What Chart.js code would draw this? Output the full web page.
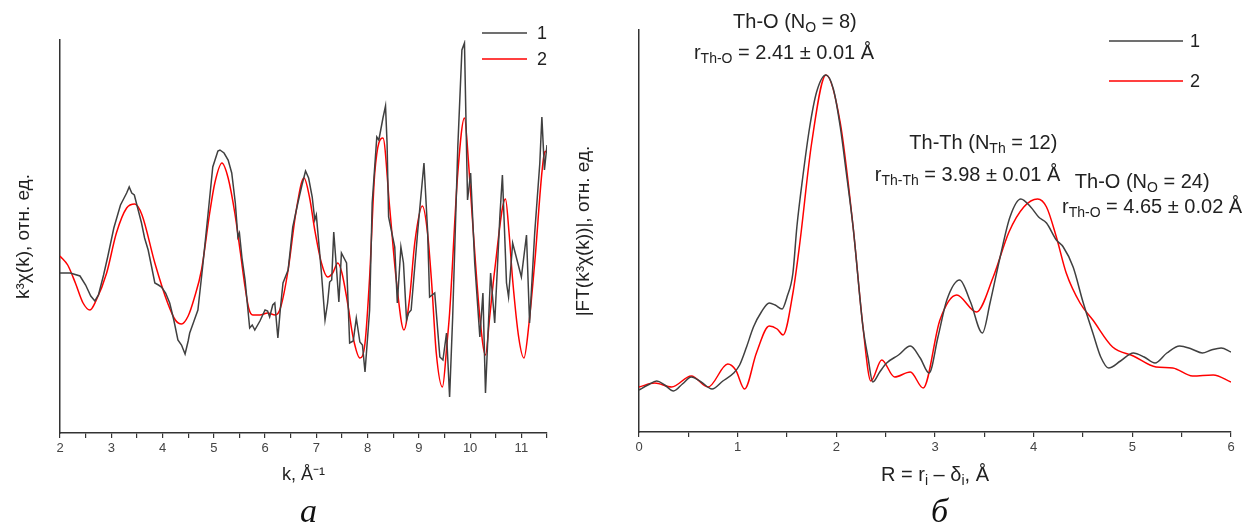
<!DOCTYPE html>
<html>
<head>
<meta charset="utf-8">
<script src="https://cdn.jsdelivr.net/npm/chart.js@4.4.1/dist/chart.umd.min.js"></script>
<style>
html, body { margin: 0; padding: 0; background: #fff; width: 1246px; height: 526px; overflow: hidden; position: relative; }
canvas { position: absolute; top: 0; }
#chartA { left: 0; }
#chartB { left: 560px; }
.panel { position: absolute; font: italic 34px "Liberation Serif", "Times New Roman", serif; line-height: 34px; color: #111; }
</style>
</head>
<body>
<canvas id="chartA" width="560" height="526"></canvas>
<canvas id="chartB" width="686" height="526"></canvas>
<div class="panel" style="left:300px;top:494px">а</div>
<div class="panel" style="left:931px;top:494px">б</div>
<script>
// --- (а) k^3 chi(k): experiment (1) and fit (2), arbitrary units
const kExp = [2.00, 2.20, 2.39, 2.50, 2.60, 2.68, 2.75, 2.85, 2.93, 3.05, 3.18, 3.25, 3.30, 3.35, 3.40, 3.45, 3.52, 3.59, 3.65, 3.72,
  3.78, 3.85, 3.92, 3.98, 4.06, 4.14, 4.22, 4.30, 4.37, 4.44, 4.50, 4.53, 4.60, 4.69, 4.78, 4.89, 4.98, 5.08, 5.12, 5.20,
  5.28, 5.35, 5.42, 5.47, 5.50, 5.55, 5.61, 5.70, 5.75, 5.80, 5.90, 6.00, 6.05, 6.09, 6.15, 6.19, 6.25, 6.30, 6.35, 6.45,
  6.54, 6.64, 6.72, 6.79, 6.85, 6.92, 6.97, 7.00, 7.10, 7.17, 7.22, 7.26, 7.30, 7.34, 7.40, 7.44, 7.49, 7.59, 7.65, 7.72,
  7.78, 7.85, 7.90, 7.95, 8.04, 8.09, 8.18, 8.22, 8.30, 8.35, 8.38, 8.41, 8.53, 8.58, 8.65, 8.70, 8.76, 8.80, 8.85, 8.98,
  9.10, 9.17, 9.21, 9.31, 9.41, 9.47, 9.54, 9.60, 9.66, 9.76, 9.84, 9.89, 9.95, 10.01, 10.09, 10.19, 10.25, 10.30, 10.40, 10.48,
  10.58, 10.63, 10.71, 10.75, 10.83, 10.93, 11.00, 11.10, 11.16, 11.26, 11.36, 11.40, 11.45, 11.50];
const chiExp = [160, 160, 157, 148, 137, 132, 138, 158, 176, 205, 228, 235, 240, 246, 240, 238, 224, 210, 195, 183,
  168, 150, 148, 146, 140, 130, 113, 93, 88, 79, 92, 100, 110, 123, 165, 220, 266, 282, 283, 280,
  273, 260, 230, 196, 200, 175, 153, 105, 108, 103, 112, 123, 122, 116, 128, 130, 95, 125, 150, 163,
  206, 230, 248, 262, 255, 236, 213, 218, 160, 113, 130, 151, 153, 201, 160, 131, 180, 170, 90, 92,
  115, 91, 88, 61, 123, 230, 296, 293, 315, 327, 290, 216, 186, 130, 186, 170, 113, 120, 123, 203,
  270, 203, 136, 140, 76, 73, 100, 36, 116, 286, 383, 390, 233, 260, 170, 96, 140, 40, 160, 110,
  216, 258, 150, 136, 190, 170, 156, 198, 110, 200, 270, 316, 263, 288];

const kFit = [2.00, 2.15, 2.30, 2.45, 2.585, 2.70, 2.91, 3.10, 3.30, 3.46, 3.60, 3.85, 4.10, 4.25, 4.37, 4.50, 4.62, 4.76, 4.92, 5.02,
  5.16, 5.28, 5.41, 5.52, 5.61, 5.68, 5.76, 5.90, 6.05, 6.20, 6.30, 6.45, 6.60, 6.76, 6.87, 6.97, 7.10, 7.22, 7.32, 7.42,
  7.50, 7.61, 7.72, 7.85, 7.95, 8.04, 8.14, 8.30, 8.43, 8.56, 8.71, 8.82, 8.92, 9.07, 9.17, 9.25, 9.34, 9.46, 9.55, 9.60,
  9.76, 9.89, 9.97, 10.05, 10.19, 10.30, 10.38, 10.48, 10.69, 10.76, 10.83, 10.95, 11.05, 11.15, 11.26, 11.45, 11.48];
const chiFit = [177, 168, 150, 130, 123, 132, 160, 200, 225, 229, 218, 170, 130, 113, 109, 117, 135, 163, 220, 250,
  270, 255, 220, 180, 146, 125, 118, 118, 120, 118, 125, 163, 220, 255, 235, 203, 170, 156, 160, 170,
  160, 130, 95, 75, 90, 156, 260, 295, 226, 153, 103, 135, 190, 227, 200, 150, 80, 46, 90, 120,
  260, 315, 270, 210, 116, 78, 115, 163, 234, 200, 153, 95, 75, 110, 170, 280, 282];

// --- (б) |FT(k^3 chi(k))|: experiment (1) and fit (2), arbitrary units
const rExp = [0.00, 0.09, 0.18, 0.26, 0.35, 0.44, 0.53, 0.63, 0.74, 0.85, 0.96, 1.02, 1.09, 1.16, 1.24, 1.32, 1.38, 1.45, 1.50, 1.56,
  1.60, 1.66, 1.73, 1.80, 1.895, 1.97, 2.04, 2.10, 2.17, 2.27, 2.32, 2.37, 2.44, 2.51, 2.63, 2.75, 2.85, 2.94, 3.03, 3.12,
  3.25, 3.36, 3.48, 3.56, 3.66, 3.76, 3.87, 3.97, 4.05, 4.13, 4.23, 4.30, 4.40, 4.50, 4.60, 4.68, 4.76, 4.88, 5.01, 5.12,
  5.23, 5.35, 5.48, 5.60, 5.71, 5.80, 5.90, 6.00];
const ftExp = [42, 47, 51, 47, 41, 48, 55, 50, 43, 51, 59, 67, 85, 105, 120, 129, 127, 123, 135, 159,
  205, 255, 305, 340, 357, 343, 305, 260, 205, 105, 75, 50, 60, 69, 77, 86, 74, 59, 95, 132,
  152, 130, 99, 130, 175, 215, 233, 225, 215, 209, 192, 185, 165, 130, 99, 75, 64, 71, 79, 75,
  69, 79, 86, 83, 79, 82, 84, 80];

const rFit = [0.00, 0.16, 0.33, 0.53, 0.70, 0.90, 0.98, 1.07, 1.19, 1.32, 1.40, 1.46, 1.56, 1.63, 1.75, 1.895, 2.04, 2.17, 2.27, 2.35,
  2.46, 2.59, 2.75, 2.88, 3.05, 3.22, 3.42, 3.59, 3.75, 3.90, 4.04, 4.13, 4.23, 4.33, 4.47, 4.60, 4.80, 5.01, 5.24, 5.41,
  5.61, 5.82, 6.00];
const ftFit = [45, 49, 45, 56, 45, 68, 62, 43, 79, 106, 103, 97, 139, 189, 289, 357, 309, 205, 105, 51,
  72, 55, 60, 44, 112, 137, 120, 155, 200, 225, 233, 225, 195, 159, 129, 112, 85, 76, 65, 64,
  56, 57, 50];

const seriesLabels = ['1', '2'];
const seriesColors = ['#404040', '#ff0000'];

// annotation texts for (б); [text, isSubscript]
const peakNotes = [
  { r: 1.58, v: 410, parts: [['Th-O (N'], ['O', 1], [' = 8)']] },
  { r: 1.47, v: 379, parts: [['r'], ['Th-O', 1], [' = 2.41 ± 0.01 Å']] },
  { r: 3.49, v: 289, parts: [['Th-Th (N'], ['Th', 1], [' = 12)']] },
  { r: 3.33, v: 257, parts: [['r'], ['Th-Th', 1], [' = 3.98 ± 0.01 Å']] },
  { r: 5.10, v: 250, parts: [['Th-O (N'], ['O', 1], [' = 24)']] },
  { r: 5.20, v: 225, parts: [['r'], ['Th-O', 1], [' = 4.65 ± 0.02 Å']] }
];

const FONT = '"Liberation Sans", Arial, sans-serif';
Chart.defaults.font.family = FONT;

function pts(xs, ys) {
  return xs.map((x, i) => ({ x: x, y: ys[i] }));
}

function drawParts(ctx, parts, cx, cy, size) {
  const main = size + 'px ' + FONT;
  const sub = Math.round(size * 0.72) + 'px ' + FONT;
  let w = 0;
  parts.forEach(p => { ctx.font = p[1] ? sub : main; w += ctx.measureText(p[0]).width; });
  let x = cx - w / 2;
  ctx.textAlign = 'left';
  ctx.textBaseline = 'middle';
  parts.forEach(p => {
    ctx.font = p[1] ? sub : main;
    ctx.fillText(p[0], x, cy + (p[1] ? size * 0.3 : 0));
    x += ctx.measureText(p[0]).width;
  });
}

// legend + notes drawn over the plot
const overlay = {
  id: 'overlay',
  afterDraw(chart, args, opts) {
    const ctx = chart.ctx;
    const area = chart.chartArea;
    ctx.save();
    const lg = opts.legend;
    chart.data.datasets.forEach((ds, i) => {
      const y = area.top + lg.y[i];
      ctx.strokeStyle = ds.borderColor;
      ctx.lineWidth = 1.5;
      ctx.beginPath();
      ctx.moveTo(area.right + lg.x0, y);
      ctx.lineTo(area.right + lg.x1, y);
      ctx.stroke();
      ctx.fillStyle = '#222';
      ctx.font = '18px ' + FONT;
      ctx.textAlign = 'left';
      ctx.textBaseline = 'middle';
      ctx.fillText(ds.label, area.right + lg.xt, y + 1);
    });
    ctx.fillStyle = '#222';
    (opts.notes || []).forEach(n => {
      drawParts(ctx, n.parts, chart.scales.x.getPixelForValue(n.r), chart.scales.y.getPixelForValue(n.v), 20);
    });
    if (opts.xTitle) {
      drawParts(ctx, opts.xTitle, (area.left + area.right) / 2, area.bottom + 43, 20);
    }
    ctx.restore();
  }
};

function xAxis(min, max, height, title) {
  return {
    type: 'linear', min: min, max: max,
    ticks: {
      stepSize: 0.5, autoSkip: false, maxRotation: 0, padding: 3,
      color: '#444', font: { size: 13 },
      callback: v => Number.isInteger(v) ? v : ''
    },
    grid: { display: true, drawOnChartArea: false, drawTicks: true, tickLength: 5, color: '#333', lineWidth: 1.2 },
    border: { display: true, color: '#333', width: 1.5 },
    title: title ? { display: true, text: title, color: '#222', font: { size: 18 }, padding: { top: 0, bottom: 40 } } : { display: false },
    afterFit(s) { s.height = height; }
  };
}

function yAxis(max, width, title, pad) {
  return {
    min: 0, max: max,
    ticks: { display: false },
    grid: { display: false },
    border: { display: true, color: '#333', width: 1.5 },
    title: { display: true, text: title, color: '#222', font: { size: 19 }, padding: { top: pad, bottom: 0 } },
    afterFit(s) { s.width = width; }
  };
}

function lineSet(label, data, color, smooth) {
  return {
    label: label, data: data, borderColor: color, backgroundColor: color,
    borderWidth: 1.5, pointRadius: 0, fill: false,
    tension: smooth ? 0.4 : 0, cubicInterpolationMode: smooth ? 'monotone' : 'default'
  };
}

new Chart(document.getElementById('chartA'), {
  type: 'line',
  data: {
    datasets: [
      lineSet(seriesLabels[0], pts(kExp, chiExp), seriesColors[0], false),
      lineSet(seriesLabels[1], pts(kFit, chiFit), seriesColors[1], true)
    ]
  },
  options: {
    responsive: false, animation: false, devicePixelRatio: 1,
    layout: { padding: { top: 40, right: 13, bottom: 0, left: 0 } },
    plugins: {
      legend: { display: false }, tooltip: { enabled: false },
      overlay: { legend: { x0: -65, x1: -20, xt: -10, y: [-7, 19] } }
    },
    scales: {
      x: xAxis(2, 11.5, 93, 'k, Å⁻¹'),
      y: yAxis(393, 60, 'k³χ(k), отн. ед.', 12)
    }
  },
  plugins: [overlay]
});

new Chart(document.getElementById('chartB'), {
  type: 'line',
  data: {
    datasets: [
      lineSet(seriesLabels[0], pts(rExp, ftExp), seriesColors[0], true),
      lineSet(seriesLabels[1], pts(rFit, ftFit), seriesColors[1], true)
    ]
  },
  options: {
    responsive: false, animation: false, devicePixelRatio: 1,
    layout: { padding: { top: 30, right: 15, bottom: 0, left: 0 } },
    plugins: {
      legend: { display: false }, tooltip: { enabled: false },
      overlay: {
        legend: { x0: -122, x1: -48, xt: -41, y: [11, 51] },
        notes: peakNotes,
        xTitle: [['R = r'], ['i', 1], [' – δ'], ['i', 1], [', Å']]
      }
    },
    scales: {
      x: xAxis(0, 6, 94, null),
      y: yAxis(402, 79, '|FT(k³χ(k))|, отн. ед.', 12)
    }
  },
  plugins: [overlay]
});
</script>
</body>
</html>
